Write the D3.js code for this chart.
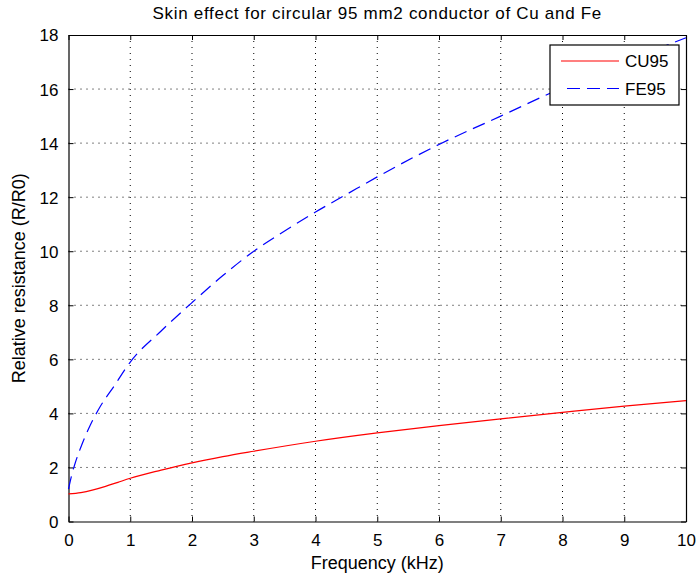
<!DOCTYPE html>
<html><head><meta charset="utf-8">
<script src="https://cdn.jsdelivr.net/npm/d3@7"></script>
<style>body{margin:0;background:#fff}svg{display:block}text{font-family:"Liberation Sans",Arial,sans-serif;fill:#000}</style>
</head><body>
<svg id="c" width="696" height="580"></svg>
<script>
const freqCu = [0, 0.2, 0.4, 0.6, 0.8, 1, 1.5, 2, 2.5, 3, 4, 5, 6, 7, 8, 9, 10];
const cu95   = [1.02, 1.07, 1.17, 1.3, 1.45, 1.6, 1.9, 2.17, 2.4, 2.6, 2.97, 3.28, 3.55, 3.8, 4.04, 4.27, 4.47];
const freqFe = [0, 0.05, 0.1, 0.2, 0.35, 0.5, 0.75, 1, 1.5, 2, 2.5, 3, 3.5, 4, 4.5, 5, 6, 7, 8, 9, 10];
const fe95   = [1.2, 1.7, 2.1, 2.75, 3.55, 4.2, 5.05, 5.9, 7.05, 8.1, 9.1, 10.0, 10.75, 11.45, 12.1, 12.75, 13.95, 15.0, 16.05, 17.0, 17.9];
const xTicks = [0,1,2,3,4,5,6,7,8,9,10];
const yTicks = [0,2,4,6,8,10,12,14,16,18];
const seriesNames = ["CU95", "FE95"];
const colors = ["#ff0000", "#0000ff"];

const svg = d3.select("#c");
const L = 68.5, R = 686, T = 35, B = 521.5;
const x = d3.scaleLinear().domain([0,10]).range([L,R]);
const y = d3.scaleLinear().domain([0,18]).range([B,T]);

svg.append("rect").attr("width",696).attr("height",580).attr("fill","#fff");

// grid
const g = svg.append("g");
g.selectAll(".vg").data(xTicks.slice(1,-1)).enter().append("line")
  .attr("x1",d=>x(d)).attr("x2",d=>x(d)).attr("y1",T).attr("y2",B)
  .attr("stroke","#000").attr("stroke-width",1).attr("stroke-dasharray","1,5");
g.selectAll(".hg").data(yTicks.slice(1,-1)).enter().append("line")
  .attr("y1",d=>y(d)).attr("y2",d=>y(d)).attr("x1",L).attr("x2",R)
  .attr("stroke","#000").attr("stroke-width",1).attr("stroke-dasharray","1,5");

// axes
const tl = -5;
const ax = svg.append("g").attr("transform",`translate(0,${B})`).call(d3.axisBottom(x).tickValues(xTicks).tickSizeInner(tl).tickSizeOuter(0).tickPadding(10));
const axT = svg.append("g").attr("transform",`translate(0,${T})`).call(d3.axisTop(x).tickValues(xTicks).tickSizeInner(tl).tickSizeOuter(0).tickFormat(""));
const ay = svg.append("g").attr("transform",`translate(${L},0)`).call(d3.axisLeft(y).tickValues(yTicks).tickSizeInner(tl).tickSizeOuter(0).tickPadding(10));
const ayR = svg.append("g").attr("transform",`translate(${R},0)`).call(d3.axisRight(y).tickValues(yTicks).tickSizeInner(tl).tickSizeOuter(0).tickFormat(""));
[ax,axT,ay,ayR].forEach(a=>{
  a.select(".domain").attr("stroke","#000").attr("stroke-width",1.2);
  a.selectAll(".tick line").attr("stroke","#000");
  a.selectAll("text").attr("font-size",17).attr("font-family","Liberation Sans, Arial, sans-serif").attr("fill","#000");
});
ax.selectAll("text").attr("dy","0.85em");
ay.selectAll("text").attr("dy","0.35em");

// lines
const line = d3.line().x(d=>x(d[0])).y(d=>y(d[1])).curve(d3.curveMonotoneX);
const cuData = freqCu.map((f,i)=>[f,cu95[i]]);
const feData = freqFe.map((f,i)=>[f,fe95[i]]);
svg.append("path").datum(cuData).attr("d",line).attr("fill","none").attr("stroke",colors[0]).attr("stroke-width",1.2);
svg.append("path").datum(feData).attr("d",line).attr("fill","none").attr("stroke",colors[1]).attr("stroke-width",1.2).attr("stroke-dasharray","13,7");

// title & labels
svg.append("text").attr("x",(L+R)/2).attr("y",19).attr("text-anchor","middle").attr("font-size",17).attr("letter-spacing","0.7px").attr("font-family","DejaVu Sans, sans-serif").text("Skin effect for circular 95 mm2 conductor of Cu and Fe");
svg.append("text").attr("x",(L+R)/2).attr("y",569).attr("text-anchor","middle").attr("font-size",18).text("Frequency (kHz)");
svg.append("text").attr("transform",`translate(25,${(T+B)/2}) rotate(-90)`).attr("text-anchor","middle").attr("font-size",18).text("Relative resistance (R/R0)");

// legend
const lg = svg.append("g");
lg.append("rect").attr("x",550).attr("y",45).attr("width",129).attr("height",60).attr("fill","#fff").attr("stroke","#000").attr("stroke-width",1.2);
const ly = [61, 88.5];
seriesNames.forEach((n,i)=>{
  lg.append("line").attr("x1",561).attr("x2",619).attr("y1",ly[i]).attr("y2",ly[i])
    .attr("stroke",colors[i]).attr("stroke-width",1.2).attr("stroke-dasharray", i===1?"13,7":null)
    .attr("stroke-dashoffset", i===1?-6:0);
  lg.append("text").attr("x",625).attr("y",ly[i]).attr("dy","0.36em").attr("font-size",17).text(n);
});
</script>
</body></html>
